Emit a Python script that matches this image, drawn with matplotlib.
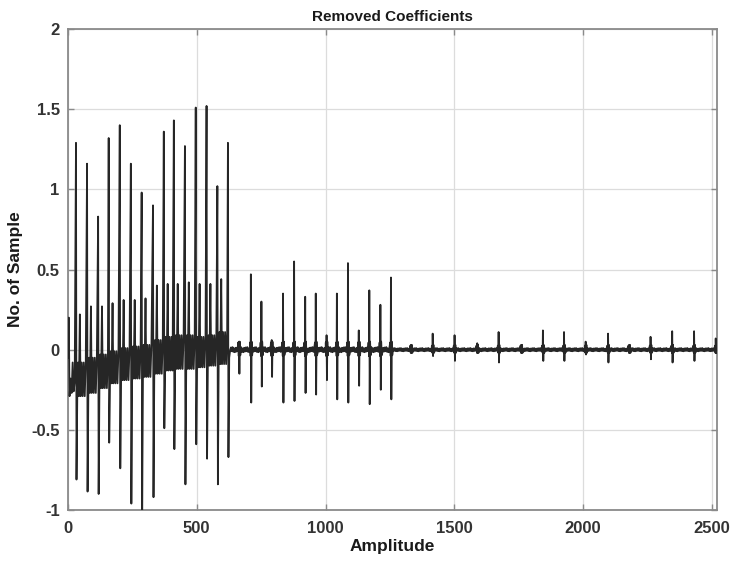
"""
Removed Coefficients - recreated from a MATLAB style figure
"""
import matplotlib
matplotlib.use("Agg")
import matplotlib.pyplot as plt

#---------------------------------------------------------------------------------------------------
# data

# segment 1 (0 - 630): large spikes
S1_START = [-0.05, 0.20, -0.29, -0.18, -0.27, -0.08, -0.26, -0.20]
S1_POS = [31, 74, 117, 158, 201, 244, 286, 330, 372, 411, 454, 496, 538, 580, 621]
S1_PEAK = [1.29, 1.16, 0.83, 1.32, 1.40, 1.16, 0.98, 0.90, 1.36, 1.43, 1.27, 1.51, 1.52, 1.02, 1.29]
S1_TROUGH = [-0.81, -0.885, -0.90, -0.58, -0.74, -0.96, -1.00, -0.92, -0.49, -0.62,
             -0.84, -0.59, -0.68, -0.84, -0.67]
S1_SECOND = [0.22, 0.27, 0.27, 0.29, 0.31, 0.31, 0.32, 0.40, 0.41, 0.41, 0.42, 0.41, 0.41, 0.44, -0.05]
S1_LOW = [-0.29, -0.27, -0.24, -0.21, -0.19, -0.18, -0.17, -0.15, -0.13, -0.12,
          -0.12, -0.11, -0.10, -0.09, -0.05]
S1_MID = [-0.08, -0.05, -0.03, -0.01, 0.01, 0.02, 0.03, 0.06, 0.08, 0.09, 0.09, 0.08, 0.09, 0.11, 0.0]

# segment 2 (630 - 1260): medium spikes
S2_POS = [664, 710, 751, 791, 835, 878, 921, 962, 1004, 1044, 1087, 1129, 1170, 1213, 1254]
S2_PEAK = [0.05, 0.47, 0.30, 0.06, 0.35, 0.55, 0.33, 0.35, 0.09, 0.35, 0.54, 0.12, 0.37, 0.28, 0.45]
S2_TROUGH = [-0.15, -0.33, -0.23, -0.17, -0.33, -0.32, -0.27, -0.28, -0.19, -0.31,
             -0.33, -0.225, -0.34, -0.25, -0.31]
S2_BLOB = [0.045, -0.04, 0.05, -0.035]
S2_RIPPLE = [0.014, -0.010, 0.016, -0.014, 0.008, -0.016, 0.012, -0.012]

# segment 3 (1260 - 2520): small spikes
S3_POS = [1332, 1416, 1501, 1589, 1672, 1760, 1844, 1926, 2010, 2097, 2179, 2262, 2346, 2431, 2515]
S3_PEAK = [0.03, 0.10, 0.09, 0.04, 0.11, 0.03, 0.12, 0.11, 0.05, 0.10, 0.03, 0.08, 0.115, 0.115, 0.07]
S3_TROUGH = [-0.02, -0.04, -0.07, -0.02, -0.08, -0.02, -0.07, -0.07, -0.03, -0.08,
             -0.02, -0.06, -0.08, -0.07, -0.02]
S3_BLOB = [0.025, -0.02, 0.03, -0.02]
S3_RIPPLE = [0.009, -0.007, 0.010, -0.009, 0.006, -0.010, 0.008, -0.008]

X_TICKS = [0, 500, 1000, 1500, 2000, 2500]
Y_TICKS = [-1, -0.5, 0, 0.5, 1, 1.5, 2]
Y_TICKLABELS = ["-1", "-0.5", "0", "0.5", "1", "1.5", "2"]


#---------------------------------------------------------------------------------------------------
def build_segment1():
    xs = [0, 3, 6, 10, 14, 18, 22, 26]
    ys = list(S1_START)
    offsets = [0, 2, 5, 8, 11, 15, 18, 22, 26, 30, 34, 38]
    for i, p in enumerate(S1_POS):
        q = S1_POS[i + 1] if i + 1 < len(S1_POS) else 630
        lo, mid = S1_LOW[i], S1_MID[i]
        vals = [S1_PEAK[i], S1_TROUGH[i], lo, mid, lo, S1_SECOND[i], lo, mid, lo, mid, lo, mid]
        for off, v in zip(offsets, vals):
            if p + off < q - 2:
                xs.append(p + off)
                ys.append(v)
    xs.append(630)
    ys.append(0.0)
    return xs, ys


def build_spiky(start, end, pos, peak, trough, blob, ripple):
    xs, ys = [], []
    edges = [start] + list(pos) + [end]
    k = 0
    for i in range(len(edges) - 1):
        a, b = edges[i], edges[i + 1]
        if i > 0:
            # spike itself with a small blob round the baseline
            xs += [a - 3, a - 1, a, a + 1.5, a + 3, a + 5]
            ys += [blob[0], blob[1], peak[i - 1], trough[i - 1], blob[2], blob[3]]
            a = a + 5
        x = a + 3
        while x < b - 3:
            xs.append(x)
            ys.append(ripple[k % len(ripple)])
            k += 1
            x += 3
    return xs, ys


def main():
    x1, y1 = build_segment1()
    x2, y2 = build_spiky(630, 1260, S2_POS, S2_PEAK, S2_TROUGH, S2_BLOB, S2_RIPPLE)
    x3, y3 = build_spiky(1260, 2520, S3_POS, S3_PEAK, S3_TROUGH, S3_BLOB, S3_RIPPLE)
    xs = x1 + x2 + x3
    ys = y1 + y2 + y3

    plt.rcParams['font.family'] = ['Liberation Sans', 'DejaVu Sans']
    plt.rcParams['font.weight'] = 'bold'

    fig = plt.figure(figsize=(7.31, 5.68), dpi=100)
    ax = fig.add_axes([68 / 731, 1 - 510 / 568, (717 - 68) / 731, (510 - 29) / 568])

    ax.plot(xs, ys, color='#262626', lw=1.3, zorder=3)

    ax.set_xlim(0, 2520)
    ax.set_ylim(-1, 2)
    ax.set_xticks(X_TICKS)
    ax.set_yticks(Y_TICKS)
    ax.set_yticklabels(Y_TICKLABELS)
    ax.grid(True, color='#dcdcdc', lw=0.9, zorder=0)
    ax.set_axisbelow(True)

    for sp in ax.spines.values():
        sp.set_color('#8a8a8a')
        sp.set_linewidth(1.3)
    ax.tick_params(direction='in', length=4, width=1, color='#8a8a8a',
                   top=True, right=True, labelsize=12, labelcolor='#333333')
    ax.tick_params(axis='x', pad=8)
    ax.tick_params(axis='y', pad=6)
    for lab in ax.get_xticklabels() + ax.get_yticklabels():
        lab.set_fontweight('bold')

    ax.set_title("Removed Coefficients", fontsize=11, fontweight='bold', color='#1a1a1a', pad=6)
    ax.set_xlabel("Amplitude", fontsize=12.5, fontweight='bold', color='#1a1a1a', labelpad=2)
    ax.set_ylabel("No. of Sample", fontsize=12.5, fontweight='bold', color='#1a1a1a', labelpad=6)

    fig.savefig("out.png", dpi=100)


if __name__ == "__main__":
    main()
